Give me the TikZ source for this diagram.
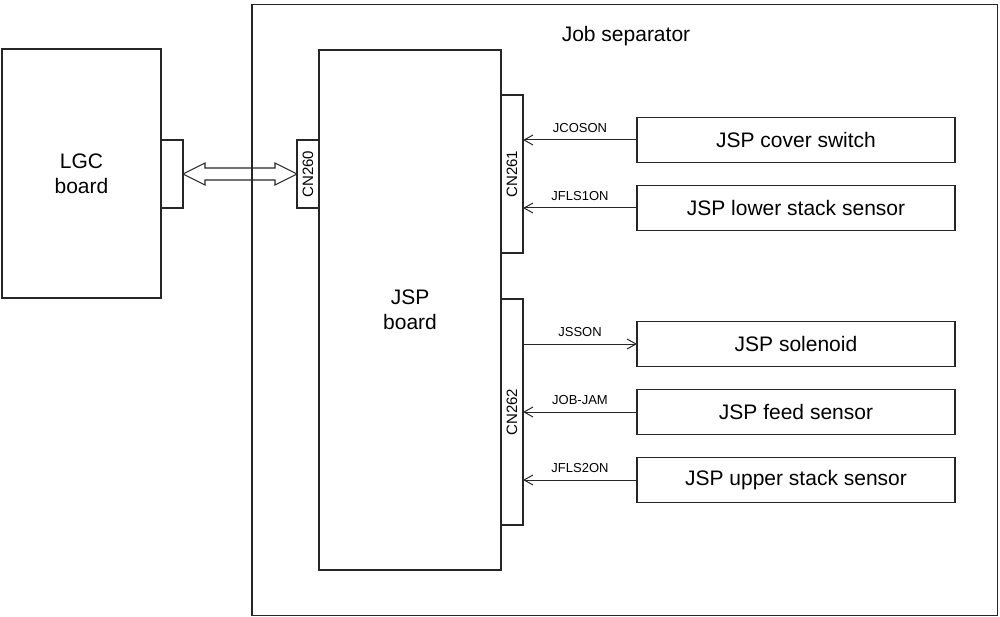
\documentclass[tikz,border=0pt]{standalone}
\usepackage{fontspec}
\setmainfont{Liberation Sans}
\usetikzlibrary{arrows.meta,calc}

\begin{document}
\begin{tikzpicture}[x=1pt, y=-1pt,
         box/.style={draw=black!85, line width=1.1pt, rectangle, inner sep=0pt, outer sep=0pt},
         big font/.style={font=\fontsize{21}{25}\selectfont},
         conn/.style={box, minimum width=22pt},
         conn name/.style={rotate=90, font=\fontsize{15}{18}\selectfont, inner sep=0pt},
         part/.style={box, big font, minimum width=318pt, minimum height=45pt},
         signal/.style={-{Straight Barb[length=9pt,width=10pt]}, line width=1pt, black!85},
         sig name/.style={font=\fontsize{13}{15}\selectfont, inner sep=0pt, above=6.5pt, black}
      ]
   \useasboundingbox (0,0) rectangle (1000,617);

   % boxes
   \node[box, minimum width=745.5pt, minimum height=611pt] (sep) at (624.75,310) {};
   \node[big font] (sepL) at (626,36) {Job separator};

   \node[box, big font, align=center, minimum width=159pt, minimum height=249pt] (lgc) at (81.5,173.5) {LGC\\board};
   \node[conn, minimum height=68pt] (lgcport) at (172,174) {};

   \node[box, big font, align=center, minimum width=182pt, minimum height=520pt] (jsp) at (410,310) {JSP\\board};
   \node[conn, minimum height=68pt] (cn260) at (308,174) {};
   \node[conn, minimum height=158pt] (cn261) at (512,174) {};
   \node[conn, minimum height=226pt] (cn262) at (512,412) {};
   \node[conn name] (cn260L) at (cn260) {CN260};
   \node[conn name] (cn261L) at (cn261) {CN261};
   \node[conn name] (cn262L) at (cn262) {CN262};

   \node[part] (cover) at (796,140) {JSP cover switch};
   \node[part] (lower) at (796,208) {JSP lower stack sensor};
   \node[part] (solenoid) at (796,344) {JSP solenoid};
   \node[part] (feed) at (796,412) {JSP feed sensor};
   \node[part] (upper) at (796,480) {JSP upper stack sensor};

   % bus between the boards
   \draw[box] (lgcport.east) -- ++(22,-11) -- ++(0,5) -- ($(cn260.west)+(-22,-6)$)
      -- ++(0,-5) -- (cn260.west) -- ++(-22,11) -- ++(0,-5)
      -- ($(lgcport.east)+(22,6)$) -- ++(0,5) -- cycle;

   % signals
   \begin{scope}[signal]
      \draw (cover.west) -- node[sig name] {JCOSON} (cn261.east |- cover.west);
      \draw (lower.west) -- node[sig name] {JFLS1ON} (cn261.east |- lower.west);
      \draw (cn262.east |- solenoid.west) -- node[sig name] {JSSON} (solenoid.west);
      \draw (feed.west) -- node[sig name] {JOB-JAM} (cn262.east |- feed.west);
      \draw (upper.west) -- node[sig name] {JFLS2ON} (cn262.east |- upper.west);
   \end{scope}
\end{tikzpicture}
\end{document}
